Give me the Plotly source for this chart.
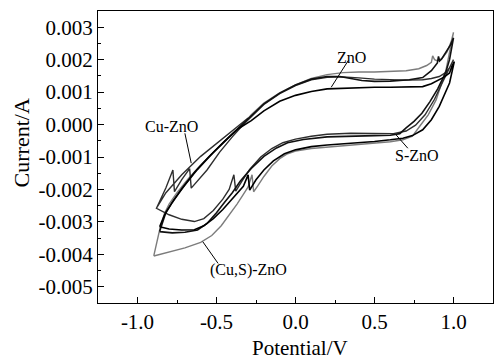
import plotly.graph_objects as go

# ---------------- data (potential V, current mA) ----------------
# (Cu,S)-ZnO : forward (lower) branch then reverse (upper) branch
cus_E = [-0.897, -0.80, -0.70, -0.60, -0.53, -0.47, -0.42, -0.37, -0.33, -0.30, -0.275, -0.265,
         -0.24, -0.20, -0.15, -0.10, -0.05, 0.0, 0.1, 0.2, 0.3, 0.4, 0.5, 0.6, 0.68, 0.74,
         0.785, 0.84, 0.89, 0.953, 1.0,
         0.985, 0.96, 0.93, 0.90, 0.88, 0.868, 0.86, 0.83, 0.78, 0.70, 0.60, 0.50, 0.40, 0.30,
         0.20, 0.10, 0.0, -0.10, -0.20, -0.28, -0.32, -0.40, -0.50, -0.60, -0.68, -0.75, -0.80,
         -0.83, -0.86, -0.897]
cus_I = [-4.05, -3.92, -3.80, -3.63, -3.42, -3.12, -2.80, -2.45, -2.15, -1.92, -1.55, -2.07,
         -1.90, -1.60, -1.28, -1.05, -0.90, -0.82, -0.74, -0.70, -0.66, -0.62, -0.58, -0.53, -0.47, -0.36,
         -0.06, 0.30, 0.76, 1.69, 2.84,
         2.55, 2.25, 2.05, 1.96, 2.00, 2.12, 1.92, 1.82, 1.72, 1.66, 1.63, 1.62, 1.62, 1.60,
         1.54, 1.42, 1.22, 0.98, 0.66, 0.30, 0.08, -0.30, -0.78, -1.25, -1.68, -2.10, -2.45,
         -2.75, -3.25, -4.05]

# Cu-ZnO : straight segment to vertex, forward branch, reverse branch with spikes
cu_E = [-0.30, -0.45, -0.60, -0.72, -0.82, -0.88,
        -0.80, -0.72, -0.64, -0.58, -0.52, -0.46, -0.42, -0.39, -0.378, -0.34, -0.29, -0.22,
        -0.15, -0.08, 0.0, 0.1, 0.2, 0.35, 0.5, 0.62, 0.70, 0.76, 0.82, 0.88, 0.93, 0.97, 1.0,
        0.99, 0.975, 0.95, 0.91, 0.86, 0.805, 0.70, 0.60, 0.50, 0.40, 0.30, 0.20, 0.10, 0.0,
        -0.10, -0.20, -0.28, -0.33, -0.40, -0.48, -0.56, -0.66, -0.67, -0.72, -0.766, -0.776,
        -0.82, -0.88]
cu_I = [0.20, -0.40, -0.98, -1.55, -2.10, -2.58,
        -2.78, -2.92, -2.99, -2.90, -2.65, -2.30, -2.00, -1.55, -2.05, -1.75, -1.38, -1.00,
        -0.74, -0.56, -0.45, -0.36, -0.30, -0.27, -0.27, -0.28, -0.20, -0.02, 0.30, 0.78, 1.30, 1.72, 2.00,
        1.92, 1.75, 1.60, 1.48, 1.42, 1.38, 1.37, 1.38, 1.40, 1.44, 1.47, 1.46, 1.38, 1.20,
        0.95, 0.62, 0.25, 0.0, -0.38, -0.85, -1.40, -1.96, -1.36, -1.70, -2.07, -1.40,
        -1.95, -2.58]

# S-ZnO
s_E = [-0.86, -0.78, -0.70, -0.62, -0.56, -0.50, -0.45, -0.40, -0.35, -0.28, -0.20, -0.12,
       -0.05, 0.05, 0.2, 0.35, 0.5, 0.6, 0.66, 0.70, 0.75, 0.80, 0.85, 0.90, 0.95, 0.975, 1.0,
       0.98, 0.95, 0.925, 0.912, 0.905, 0.898, 0.86, 0.805, 0.72, 0.60, 0.50, 0.42, 0.35, 0.28,
       0.20, 0.10, 0.0, -0.10, -0.20, -0.28, -0.34, -0.42, -0.52, -0.62, -0.70, -0.77, -0.82, -0.86]
s_I = [-3.30, -3.34, -3.32, -3.25, -3.05, -2.72, -2.40, -2.10, -1.75, -1.35, -0.98, -0.72,
       -0.56, -0.46, -0.38, -0.35, -0.34, -0.33, -0.28, -0.10, 0.10, 0.35, 0.70, 1.10, 1.60, 2.00, 2.67,
       2.45, 2.20, 2.02, 1.96, 2.10, 1.90, 1.66, 1.45, 1.38, 1.34, 1.33, 1.36, 1.42, 1.48,
       1.48, 1.40, 1.22, 0.97, 0.64, 0.28, 0.0, -0.38, -0.86, -1.38, -1.86, -2.32, -2.70, -3.30]

# ZnO
zno_E = [-0.86, -0.80, -0.72, -0.64, -0.58, -0.52, -0.46, -0.40, -0.33, -0.30, -0.29, -0.25,
         -0.20, -0.14, -0.07, 0.0, 0.1, 0.2, 0.35, 0.5, 0.6, 0.68, 0.74, 0.805, 0.86, 0.91,
         0.975, 1.005,
         0.99, 0.975, 0.94, 0.91, 0.86, 0.805, 0.70, 0.60, 0.50, 0.40, 0.30, 0.20, 0.10, 0.0,
         -0.10, -0.20, -0.28, -0.36, -0.45, -0.55, -0.64, -0.72, -0.78, -0.83, -0.86]
zno_I = [-3.15, -3.22, -3.25, -3.24, -3.12, -2.90, -2.62, -2.28, -1.90, -1.55, -2.02, -1.70,
         -1.40, -1.12, -0.90, -0.78, -0.68, -0.63, -0.58, -0.52, -0.47, -0.42, -0.34, -0.16, 0.15, 0.56,
         1.28, 1.94,
         1.80, 1.59, 1.46, 1.38, 1.26, 1.17, 1.15, 1.15, 1.15, 1.14, 1.13, 1.10, 1.02, 0.90,
         0.72, 0.42, 0.12, -0.12, -0.52, -1.00, -1.48, -1.98, -2.40, -2.80, -3.15]

x_tickvals = [-1.0, -0.5, 0.0, 0.5, 1.0]
x_ticktext = ["-1.0", "-0.5", "0.0", "0.5", "1.0"]
y_tickvals = [0.003, 0.002, 0.001, 0.0, -0.001, -0.002, -0.003, -0.004, -0.005]
y_ticktext = ["0.003", "0.002", "0.001", "0.000", "-0.001", "-0.002", "-0.003", "-0.004", "-0.005"]

series = [
    ("(Cu,S)-ZnO", cus_E, cus_I, "#7c7c7c", 1.4),
    ("Cu-ZnO", cu_E, cu_I, "#2e2e2e", 1.4),
    ("S-ZnO", s_E, s_I, "#111111", 1.6),
    ("ZnO", zno_E, zno_I, "#000000", 1.6),
]

fig = go.Figure()
for name, E, I, col, w in series:
    fig.add_trace(go.Scatter(x=E, y=[v * 1e-3 for v in I], mode="lines", name=name,
                             line=dict(color=col, width=w), showlegend=False))

FONT = "Liberation Serif, Times New Roman, serif"
axis_common = dict(showgrid=False, zeroline=False, showline=True, linecolor="#000",
                   linewidth=1.3, mirror=True, ticks="inside", ticklen=6, tickwidth=1.2,
                   tickcolor="#000", automargin=False,
                   tickfont=dict(family=FONT, size=21, color="#000"))

fig.update_xaxes(range=[-1.25, 1.25], tickvals=x_tickvals, ticktext=x_ticktext,
                 minor=dict(dtick=0.25, tick0=0, ticks="inside", ticklen=3, tickcolor="#000"),
                 **axis_common)
fig.update_yaxes(range=[-0.0055, 0.0035], tickvals=y_tickvals, ticktext=y_ticktext,
                 minor=dict(dtick=0.0005, tick0=0, ticks="inside", ticklen=3, tickcolor="#000"),
                 **axis_common)

labels = [
    ("ZnO", 0.352, 2.08, 0.335, 1.98, 0.226, 1.15),
    ("Cu-ZnO", -0.787, -0.07, -0.70, -0.27, -0.66, -1.19),
    ("S-ZnO", 0.766, -0.966, 0.711, -0.73, 0.637, -0.32),
    ("(Cu,S)-ZnO", -0.30, -4.48, -0.49, -4.28, -0.587, -3.61),
]
for txt, tx, ty, x0, y0, x1, y1 in labels:
    fig.add_annotation(x=tx, y=ty * 1e-3, text=txt, showarrow=False,
                       xanchor="center", yanchor="middle",
                       font=dict(family=FONT, size=16, color="#000"))
    fig.add_shape(type="line", x0=x0, y0=y0 * 1e-3, x1=x1, y1=y1 * 1e-3,
                  line=dict(color="#000", width=1))

fig.add_annotation(xref="paper", yref="paper", x=-0.195, y=0.55, text="Current/A",
                   xanchor="center", yanchor="middle",
                   textangle=-90, showarrow=False, font=dict(family=FONT, size=22, color="#000"))
fig.add_annotation(xref="paper", yref="paper", x=0.511, y=-0.155, text="Potential/V",
                   xanchor="center", yanchor="middle", borderpad=0,
                   showarrow=False, font=dict(family=FONT, size=21, color="#000"))

fig.update_layout(width=494, height=363, margin=dict(l=98, r=1, t=11, b=60),
                  paper_bgcolor="white", plot_bgcolor="white", autosize=False,
                  font=dict(family=FONT, color="#000"))

fig.write_html("out.html", config={"displayModeBar": False},
               post_script="document.body.style.margin='0';document.body.style.overflow='hidden';")
